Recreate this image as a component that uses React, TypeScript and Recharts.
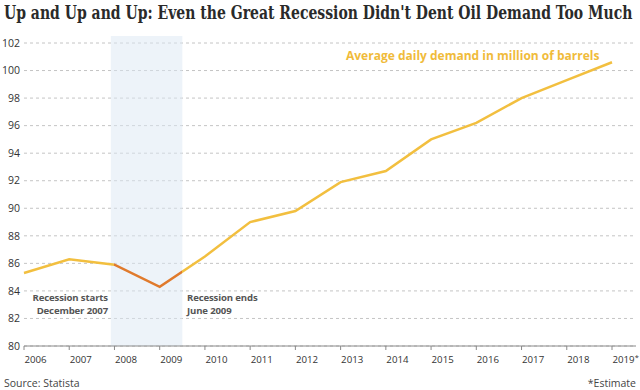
import React, { useLayoutEffect, useRef, useState } from 'react'
import {
    LineChart,
    Line,
    XAxis,
    YAxis,
    CartesianGrid,
    ReferenceArea,
} from 'recharts';

const years: number[] = [2006, 2007, 2008, 2009, 2010, 2011, 2012, 2013, 2014, 2015, 2016, 2017, 2018, 2019];
const demand: number[] = [85.3, 86.3, 85.9, 84.3, 86.5, 89.0, 89.8, 91.9, 92.7, 95.0, 96.2, 98.0, 99.3, 100.6];
const yTicks: number[] = [80, 82, 84, 86, 88, 90, 92, 94, 96, 98, 100, 102];
const estimateYears: number[] = [2019];
const recessionStart = 2007.92; // December 2007
const recessionEnd = 2009.5; // June 2009

const sans = '"Open Sans", "Noto Sans", sans-serif';
const gold = '#F2BF3F';
const orange = '#E07A2C';
const title = "Up and Up and Up: Even the Great Recession Didn't Dent Oil Demand Too Much";

const YearTick = (props: any) => {
    const { x, y, payload } = props
    const est = estimateYears.includes(payload.value)
    return (
        <text x={x + 0.5} y={y + 11} textAnchor="start" fill="#333" fontSize={9.7} fontFamily={sans}>
            {payload.value}
            {est && <tspan fontSize={7.5} dy={-3}>*</tspan>}
        </text>
    )
}

const Title = () => {
    const ref = useRef<HTMLSpanElement>(null)
    const [k, setK] = useState(1)
    useLayoutEffect(() => {
        if (ref.current) setK(628 / ref.current.offsetWidth)
    }, [])
    return (
        <span
            ref={ref}
            style={{
                position: 'absolute', left: 4, top: 1, whiteSpace: 'nowrap',
                fontFamily: '"DejaVu Serif Condensed", "DejaVu Serif", serif', fontWeight: 700, fontSize: 19,
                color: '#2a2a2a', transform: `scaleX(${k})`, transformOrigin: 'left top',
            }}
        >
            {title}
        </span>
    )
}

const App = () => {
    const data = years.map((year, i) => ({ year, value: demand[i] }))
    const span = years[years.length - 1] - years[0]
    const stopA = (2008 - years[0]) / span
    const stopB = (recessionEnd - years[0]) / span
    const note = { position: 'absolute' as const, fontSize: 9.6, letterSpacing: -0.15, fontWeight: 700, color: '#555', lineHeight: '12px', whiteSpace: 'nowrap' as const }

    return (
        <div style={{ position: 'absolute', left: 0, top: 0, width: 640, height: 390, background: '#fff', fontFamily: sans, overflow: 'hidden' }}>
            <Title />
            <LineChart width={640} height={390} data={data} margin={{ top: 43, right: 4, left: 0, bottom: 14 }}>
                <defs>
                    <linearGradient id="recessionStroke" x1="0" y1="0" x2="1" y2="0">
                        <stop offset={stopA} stopColor={gold} />
                        <stop offset={stopA} stopColor={orange} />
                        <stop offset={stopB} stopColor={orange} />
                        <stop offset={stopB} stopColor={gold} />
                    </linearGradient>
                </defs>
                <ReferenceArea
                    x1={recessionStart}
                    x2={recessionEnd}
                    y1={80}
                    y2={102.5}
                    ifOverflow="visible"
                    fill="#DCE8F4"
                    fillOpacity={0.5}
                    stroke="none"
                />
                <CartesianGrid vertical={false} strokeDasharray="3 3" stroke="#c4c4c4" />
                <XAxis
                    dataKey="year"
                    type="number"
                    domain={[2006, 2019]}
                    ticks={years}
                    interval={0}
                    padding={{ left: 0, right: 24 }}
                    height={30}
                    tickSize={4}
                    stroke="#8a8a8a"
                    tick={<YearTick />}
                />
                <YAxis
                    domain={[80, 102]}
                    ticks={yTicks}
                    width={24}
                    axisLine={false}
                    tickLine={false}
                    tickSize={2}
                    tickMargin={2}
                    tick={{ fill: '#333', fontSize: 10.5, fontFamily: sans }}
                />
                <Line
                    type="linear"
                    dataKey="value"
                    stroke="url(#recessionStroke)"
                    strokeWidth={2.5}
                    dot={false}
                    activeDot={false}
                    isAnimationActive={false}
                />
            </LineChart>
            <div style={{ position: 'absolute', left: 346, top: 47, fontSize: 12, fontWeight: 700, color: '#F0BB3A', whiteSpace: 'nowrap' }}>
                Average daily demand in million of barrels
            </div>
            <div style={{ ...note, right: 532, top: 292, textAlign: 'right' }}>Recession starts</div>
            <div style={{ ...note, right: 532, top: 305, textAlign: 'right' }}>December 2007</div>
            <div style={{ ...note, left: 187, top: 292 }}>Recession ends</div>
            <div style={{ ...note, left: 187, top: 305 }}>June 2009</div>
            <div style={{ position: 'absolute', left: 4, top: 376, fontSize: 10.5, color: '#444' }}>Source: Statista</div>
            <div style={{ position: 'absolute', right: 4, top: 376, fontSize: 10.5, color: '#444' }}>*Estimate</div>
        </div>
    )
}

export default App
